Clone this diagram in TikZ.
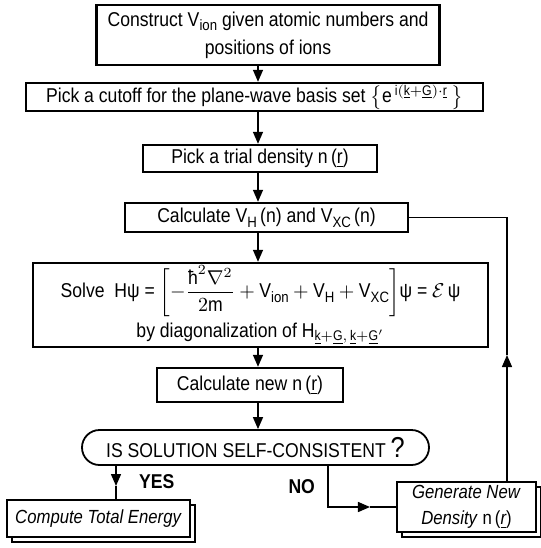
\documentclass[tikz,border=0pt]{standalone}
\usepackage{amsmath}
\usepackage{fontspec}
\setmainfont[FakeStretch=0.88]{Liberation Sans}
\usepackage{tikz}
\usetikzlibrary{arrows.meta,positioning,shapes.misc,shadows}

\tikzset{
  stepbox/.style={draw, line width=1.2pt, align=center, inner sep=0pt, fill=white},
  docbox/.style={stepbox, font=\fontsize{9.5pt}{13pt}\selectfont,
    copy shadow={shadow xshift=2.5pt, shadow yshift=-2.5pt}},
  testbox/.style={draw, line width=0.9pt, rounded rectangle, inner sep=0pt},
  arr/.style={-{Triangle[length=6pt,width=5pt]}, line width=0.7pt},
  flow/.style={line width=0.7pt},
  lab/.style={font=\fontsize{10pt}{12pt}\selectfont\bfseries}
}
\newcommand{\ul}[1]{\underline{\text{#1}}}
\newcommand{\sub}[1]{\raisebox{-0.45ex}{\fontsize{7.5pt}{8pt}\selectfont #1}}

\begin{document}
\begin{tikzpicture}[x=0.5pt, y=-0.5pt, font=\fontsize{10pt}{14pt}\selectfont]
\useasboundingbox (0,0) rectangle (541,548);

% main column
\node[stepbox, minimum width=171.5pt, minimum height=30pt] (con) at (268,35)
  {Construct V\sub{ion} given atomic numbers and\\ positions of ions};
\node[stepbox, minimum width=228.5pt, minimum height=14pt] (cut) at (254.5,97)
  {Pick a cutoff for the plane-wave basis set $\bigl\{\text{e}^{\,\text{i}(\ul{k}+\ul{G})\cdot\ul{r}}\,\bigr\}$};
\node[stepbox, minimum width=117pt, minimum height=13.5pt] (trial) at (260,158.5)
  {Pick a trial density n\,(\underline{r})};
\node[stepbox, minimum width=141.5pt, minimum height=14.5pt] (pot) at (266.5,217.5)
  {Calculate V\sub{H}\,(n) and V\sub{XC}\,(n)};
\node[stepbox, minimum width=227.5pt, minimum height=42pt] (solve) at (260.5,305)
  {Solve\ \ Hψ = $\biggl[-\dfrac{\text{ħ}^{2}\nabla^{2}}{2\text{m}}+\text{V\sub{ion}}+\text{V\sub{H}}+\text{V\sub{XC}}\biggr]$ψ = $\mathcal{E}$\,ψ\\[2pt]
   by diagonalization of H$_{\ul{k}+\ul{G},\,\ul{k}+\ul{G}'}$};
\node[stepbox, minimum width=93pt, minimum height=17pt] (newn) at (250,385)
  {Calculate new n\,(\underline{r})};
\node[testbox, minimum width=173.5pt, minimum height=17.5pt] (check) at (255.5,447.5)
  {IS SOLUTION SELF-CONSISTENT {\Large ?}};

% end boxes
\node[docbox, minimum width=69.5pt, minimum height=25pt] (newden) at (466.5,507)
  {\textit{Generate New}\\ \textit{Density} n\,(\textit{\underline{r}})};
\node[docbox, minimum width=91.5pt, minimum height=18.5pt] (etot) at (98.5,518.5)
  {\textit{Compute Total Energy}};

% connectors
\coordinate (axis) at (258,0);
\draw[arr] (con.south -| axis) -- (cut.north -| axis);
\draw[arr] (cut.south -| axis) -- (trial.north -| axis);
\draw[arr] (trial.south -| axis) -- (pot.north -| axis);
\draw[arr] (pot.south -| axis) -- (solve.north -| axis);
\draw[arr] (solve.south -| axis) -- (newn.north -| axis);
\draw[arr] (newn.south -| axis) -- (check.north -| axis);

% yes branch
\coordinate (yesx) at (116,0);
\coordinate (yestip) at (116,486);
\draw[arr] (check.south -| yesx) -- (yestip);
\draw[flow] (yestip) -- (etot.north -| yesx);
\node[lab, anchor=west] (yes) at (132,482) {YES};

% no branch
\coordinate (nox) at (328,0);
\coordinate (notip) at (370,507);
\draw[arr] (check.south -| nox) |- (notip);
\draw[flow] (notip) -- (newden.west);
\node[lab, anchor=east] (no) at (322,487) {NO};

% feedback loop
\coordinate (fbx) at (507,0);
\coordinate (fbtip) at (507,355);
\draw[arr] (newden.north -| fbx) -- (fbtip);
\draw[flow] (fbtip) -- (fbx |- pot.east) -- (pot.east);
\end{tikzpicture}
\end{document}
